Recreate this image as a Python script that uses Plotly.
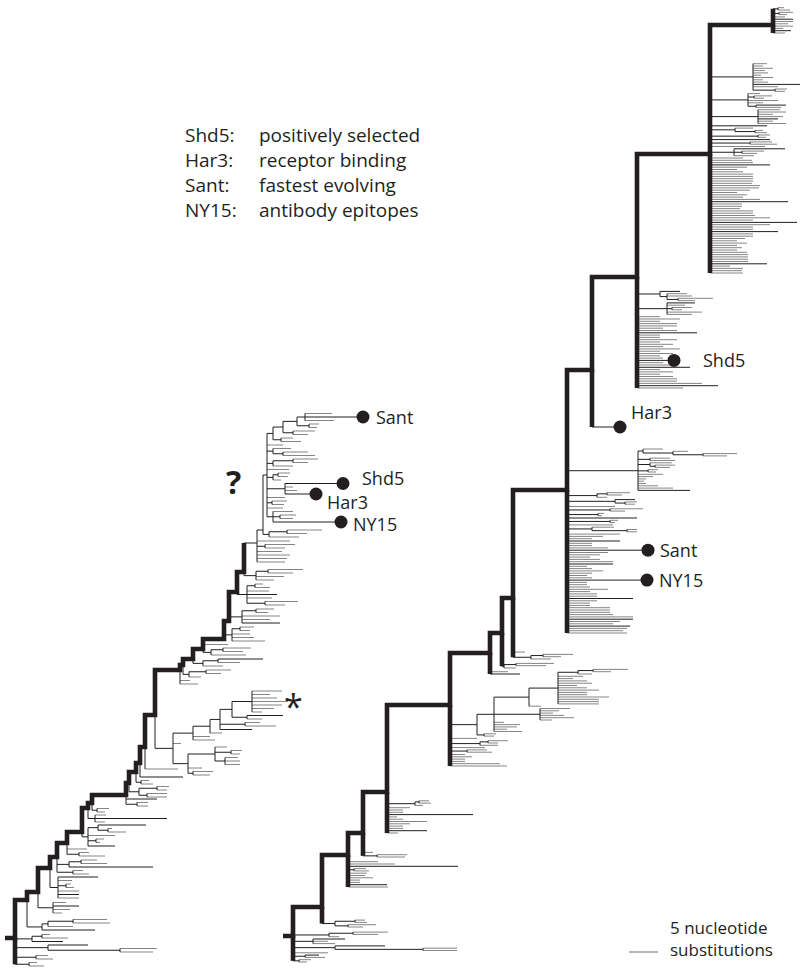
import plotly.graph_objects as go

# ---------------------------------------------------------------- data
LEGEND_KEYS = ["Shd5:", "Har3:", "Sant:", "NY15:"]
LEGEND_TEXT = ["positively selected", "receptor binding", "fastest evolving", "antibody epitopes"]
SCALE_UNITS = 29            # tree units equal to 5 substitutions
SCALE_LABEL = ["5 nucleotide", "substitutions"]

# ---- left tree (backbone, bottom -> top)
L_ROOT_X = 5
L_TRUNK_LEN = [10, 12, 11, 12, 7, 10, 15, 6, 4, 34, 3, 7, 4, 5, 10, 25, 3, 10, 10, 21, 5, 8, 7, 13, 6, 4]
L_TRUNK_Y = [938, 900, 892, 868, 857, 843, 832, 808, 803, 795, 783, 772, 763, 747, 715, 670, 665, 659,
             649, 639, 621, 592, 572, 543, 530, 475]
L_THICK = 23
L_SIDE_BASE = [966, 930, 913, 898, 874, 856, 846, 822, 812, 806, 797, 784, 777, 769, 775, 684, 677, 666,
               655, 641, 623, 605, 580, 562, 537, 522]
L_STAR_CLADE = ("(((:17,:20):5,:14,((:15,:15,:13):10,(:9,:11):16,:12):27):15,:8,"
                "(:22,:17,(:12,(k:32,(:31,:15):25,((:15,k:36):15,(:10,:22,:30,:36,:25,:18,:30):20):12):10):17):20):18")
L_TOP_CLADE = ["(NY15:68,(:13,:16):7,:20):6", 16, "(:12,:15):5", 18, "(Har3:31,:12,:8,Shd5:58):18",
               "(:8,(:10,:12):5):6", 22, "(:20,(:15,:25):20):6", "((:32,:25):10,:18):6", 16,
               "((:20,:12):8,((:15,:22):10,((:8,:10):12,(:29,Sant:58,:27):8):14):10):6"]
L_SIDES = [
    ["(:15,:8):14", "(:17,:12):21", "((:33,:37):72,k:40):33", "(k:31,(:26,:8):10):17"],
    ["(k:53,(:25,(:37,:34):25):6):15"],
    ["(:9,:17,k:26,:13):15"],
    ["(:21,k:21,:21,(:8,:5):8,:14,k:40):8"],
    ["(:16,:10):16", "(k:84,(:26,:16):12):12"],
    ["(:26,:10):12", 20],
    ["(k:27,(:4,:8):8,:27,((:18,:4):10,k:48):10):6"],
    ["(:10,k:72,:11):7"],
    ["(:8,:12):5"],
    ["(:11,:11):11", "k:31"],
    ["((:20,:20):8,(:10,:12):18):10"],
    ["(:12,:8):5"],
    ["k:43"],
    [33],
    [L_STAR_CLADE],
    [18, 10],
    ["(:12,(:15,:25):17):6"],
    ["(:20,(:22,k:45):15):10"],
    ["(:35,(:20,:28):12):8", 25],
    ["(:33,:22,:18,(:10,:14):8):8"],
    ["(k:38,:28,:38,(:12,:18):14):13"],
    ["((:20,:33):18,:25,k:30,:22,(:15,:8):8):10"],
    ["(:18,:28,(:25,:35):12):12"],
    [28, 30, 33, 25, "(:20,:30):8", 33],
    ["(:30,(:20,:35):18):6"],
    L_TOP_CLADE,
]

# ---- right tree (backbone, bottom -> top)
R_ROOT_X = 283
R_TRUNK_LEN = [10, 29, 26, 15, 24, 63, 40, 12, 11, 54, 25, 45, 73, 63]
R_TRUNK_Y = [936, 907, 855, 833, 792, 705, 653, 633, 598, 490, 370, 277, 154, 25]
R_SIDE_BASE = [962, 927, 887, 857, 833, 766, 674, 668, 659, 633, 427, 388, 273, 33]
R5_COMB = [57, 50, 15, 15, 22, 15, "(:25,:20):17", 35, "(:18,(:10,:20):8):30", 27]
R5_CLADE = ("((:10,:12):7,(:28,:13,:23,:26,:10,(:12,:34,:24,:13,:19,:30):46,(:12,(:41,:41,:41,:51,:29,:29,"
            ":41,:29,:19,:34,:29,:15,:25,(:14,(:18,:35):15):20):29):35):17):27")
R9_COMB = [60, 56, 60, "k:63", 46, 53, "k:66", 66, 46, 43, 43, 43, 23, 23, 30, "k:66", 30, 30, 23, 41,
           23, 20, 20, "NY15:80", 25, 20, 25, 36, 25, 20, "k:46", 46, 33, 23, 33, 41, "Sant:81", 41, 25, 25,
           "k:53", 25, 36, 53]
R9_SMALL = ["((:10,:10):35,:22):25", 46, "(:5,:8):43", "k:70", "(:4,:6):31", "(:15,:33):43", 48,
            "((:10,:12):10,k:20):48", "(:10,(:15,:23):10):30"]
R9_CLADE = ("(k:52,:35,:20,:8,:6,:8,:15,:25,(:8,:10):10,((:15,:20):5,:22):12,(:25,:20):12,"
            "(((:24,:34):30,:15):30,:20):5):71")
R11_COMB = [46, "k:81", 65, 40, 40, 36, 23, 36, 23, "k:53", 36, 26, "Shd5:37", 26, 23, 36, 23, 43, 26, 36,
            23, 40, 23, 23, "k:60", 40, 26, 40, 40, 23, 43, 23]
R11_CLADES = ["(:25,:35,(:10,:20):5,:18,k:28):30", "(((:17,:35):11,:25,:20):7,k:20):23"]
R12_COMB = [33, 32, 33, 20, "k:57", 38, 38, 38, 38, 37, 27, 32, 27, 37, 27, 35, 43, 43, "k:68", 43, 43, 60,
            "k:87", 43, 60, 45, 43, 43, 30, 32, 32, "k:78", 50, 33, 37, 27, 40, 49, 50, 42, 43, 43, 43, 43,
            33, 27, 37, "k:60", 43, 42, 33]
R12_CLADES = ["(:20,(:15,:22):8,k:51):24", 55, "(:27,:22):40", "k:60", "(:8,:12):48", "((:12,:8):20,:18):25",
              "k:57", "(:28,:15,k:20,:25,:15,:28,:22):48", "((:25,k:30):8,:15,:30,(:10,:18):6,:12):38",
              "((:10,:12):22,:25,k:47,:15,:10,:20,:8,:15,:12,:20,:10,:14):43"]
R13_SIDES = [12, "k:18", 10, 20, 15, 20, "k:20", 12, "(:8,:14):6", "(:12,:6):5"]
R_SIDES = [
    ["(:8,:12):6", "(:20,k:14):12", 35, "((:34,:34):88,k:50):42", "(:22,:15,k:32):20", "(:10,(:25,:35):24):36"],
    ["((:15,:28):13,(:12,:10):20):13"],
    [40, "k:39", 12, 12, 25, 17, 19, "(:15,:12):6", "k:110", 47, 30],
    ["(:28,:30):14", 10],
    [11, "k:40", 16, 16, 23, 40, 16, 10, "k:86", 16, 16, 23, "(:8,(:12,:10):4):28"],
    R5_COMB + [R5_CLADE],
    ["k:30", 18],
    ["(:12,(:30,:38):12):2"],
    ["(:20,(:18,:30):12):18", 12],
    R9_COMB + R9_SMALL + [R9_CLADE],
    ["Har3:28"],
    R11_COMB + R11_CLADES,
    R12_COMB + R12_CLADES,
    R13_SIDES,
]

# ---------------------------------------------------------------- style
BLACK = "#231f20"
GRAY = "#858585"
FONT = "Open Sans"
L_STEP, R_STEP = 3.5, 2.3
THICK_W = 4.6
LABEL_SIZE = 18
LABEL_SHIFT = {("L", "Sant"): (11, 0), ("L", "Shd5"): (17, 6), ("L", "Har3"): (9, -8), ("L", "NY15"): (10, -2),
               ("R", "Shd5"): (27, 0), ("R", "Har3"): (9, 15), ("R", "Sant"): (10, 0), ("R", "NY15"): (10, 0)}


# ---------------------------------------------------------------- tree helpers
def parse(s):
    pos = 0

    def node():
        nonlocal pos
        kids = []
        if s[pos] == "(":
            pos += 1
            kids.append(node())
            while s[pos] == ",":
                pos += 1
                kids.append(node())
            pos += 1  # ')'
        name = ""
        while pos < len(s) and s[pos] not in ":,()":
            name += s[pos]
            pos += 1
        length = 0.0
        if pos < len(s) and s[pos] == ":":
            pos += 1
            num = ""
            while pos < len(s) and s[pos] not in ",()":
                num += s[pos]
                pos += 1
            length = float(num)
        return {"name": name, "len": length, "kids": kids}

    return node()


def to_node(item):
    if isinstance(item, (int, float)):
        return {"name": "", "len": float(item), "kids": []}
    return parse(item)


segs = {}
tips = []


def add(color, width, xs, ys):
    d = segs.setdefault((color, width), ([], []))
    d[0].extend(list(xs) + [None])
    d[1].extend(list(ys) + [None])


def lay(nd, x0, st, tree):
    x = x0 + nd["len"]
    if nd["kids"]:
        ys = [lay(k, x, st, tree) for k in nd["kids"]]
        y = (ys[0] + ys[-1]) / 2
        add(BLACK, 1, [x, x], [min(ys), max(ys)])
        color = BLACK
    else:
        y = st["y"]
        st["y"] -= st["step"]
        color = BLACK if nd["name"] else GRAY
        if nd["name"] not in ("", "k"):
            tips.append((tree, nd["name"], x, y))
    add(color, 1, [x0, x], [y, y])
    return y


thick_paths = []


def draw_tree(tree, root_x, lens, ys, n_thick, full_nodes, bases, sides, step):
    xs = []
    acc = root_x
    for L in lens:
        acc += L
        xs.append(acc)
    n = len(xs)
    px, py = [root_x], [ys[0]]
    prev = root_x
    for i in range(n):
        x, y = xs[i], ys[i]
        st = {"y": bases[i], "step": step}
        ent = [lay(to_node(it), x, st, tree) for it in sides[i]]
        top = ys[i + 1] if i + 1 < n else min(ent + [y])
        low = max(ent + [y])
        hi = min(ent + [top])
        if i < n_thick:
            px += [x, x]
            py += [y, top]
            if low > y:
                add(BLACK, THICK_W if i in full_nodes else 1, [x, x], [y, low])
        else:
            add(BLACK, 1, [prev, x], [y, y])
            add(BLACK, 1, [x, x], [hi, low])
        prev = x
    thick_paths.append((px, py))


draw_tree("L", L_ROOT_X, L_TRUNK_LEN, L_TRUNK_Y, L_THICK, {0}, L_SIDE_BASE, L_SIDES, L_STEP)
draw_tree("R", R_ROOT_X, R_TRUNK_LEN, R_TRUNK_Y, len(R_TRUNK_LEN), set(range(len(R_TRUNK_LEN))),
          R_SIDE_BASE, R_SIDES, R_STEP)

# ---------------------------------------------------------------- figure
fig = go.Figure()
for (color, width), (xs, ys) in sorted(segs.items(), key=lambda kv: (kv[0][1], kv[0][0] == BLACK)):
    fig.add_trace(go.Scatter(x=xs, y=ys, mode="lines", line=dict(color=color, width=width),
                             hoverinfo="skip"))
for px, py in thick_paths:
    fig.add_trace(go.Scatter(x=px, y=py, mode="lines", line=dict(color=BLACK, width=THICK_W),
                             hoverinfo="skip"))

fig.add_trace(go.Scatter(x=[t[2] for t in tips], y=[t[3] for t in tips], mode="markers",
                         marker=dict(color=BLACK, size=13), hoverinfo="skip"))

ann = []
for tree, name, x, y in tips:
    dx, dy = LABEL_SHIFT.get((tree, name), (10, 0))
    ann.append(dict(x=x, y=y, text=name, showarrow=False, xanchor="left", yanchor="middle",
                    xshift=dx, yshift=dy, font=dict(family=FONT, size=LABEL_SIZE, color=BLACK)))

for i, (k, t) in enumerate(zip(LEGEND_KEYS, LEGEND_TEXT)):
    yy = 135 + 25 * i
    ann.append(dict(x=183, y=yy, text=k, showarrow=False, xanchor="left", yanchor="middle",
                    font=dict(family=FONT, size=19, color=BLACK)))
    ann.append(dict(x=257, y=yy, text=t, showarrow=False, xanchor="left", yanchor="middle",
                    font=dict(family=FONT, size=19, color=BLACK)))

ann.append(dict(x=233, y=481, text="<b>?</b>", showarrow=False, xanchor="center", yanchor="middle",
                font=dict(family=FONT, size=32, color=BLACK)))
ann.append(dict(x=293, y=706, text="*", showarrow=False, xanchor="center", yanchor="middle",
                font=dict(family=FONT, size=34, color=BLACK)))

SB_X, SB_Y = 629, 952
fig.add_trace(go.Scatter(x=[SB_X, SB_X + SCALE_UNITS], y=[SB_Y, SB_Y], mode="lines",
                         line=dict(color=GRAY, width=1.2), hoverinfo="skip"))
ann.append(dict(x=668, y=938, text="<br>".join(SCALE_LABEL), showarrow=False, xanchor="left",
                yanchor="middle", align="left", font=dict(family=FONT, size=17, color=BLACK)))

fig.update_layout(
    width=801, height=968, margin=dict(l=0, r=0, t=0, b=0),
    paper_bgcolor="white", plot_bgcolor="white", showlegend=False,
    xaxis=dict(range=[0, 801], visible=False, fixedrange=True),
    yaxis=dict(range=[968, 0], visible=False, fixedrange=True),
    annotations=ann,
)
fig.write_html("out.html", config={"displayModeBar": False, "staticPlot": True},
               post_script="document.body.style.margin='0px';")
